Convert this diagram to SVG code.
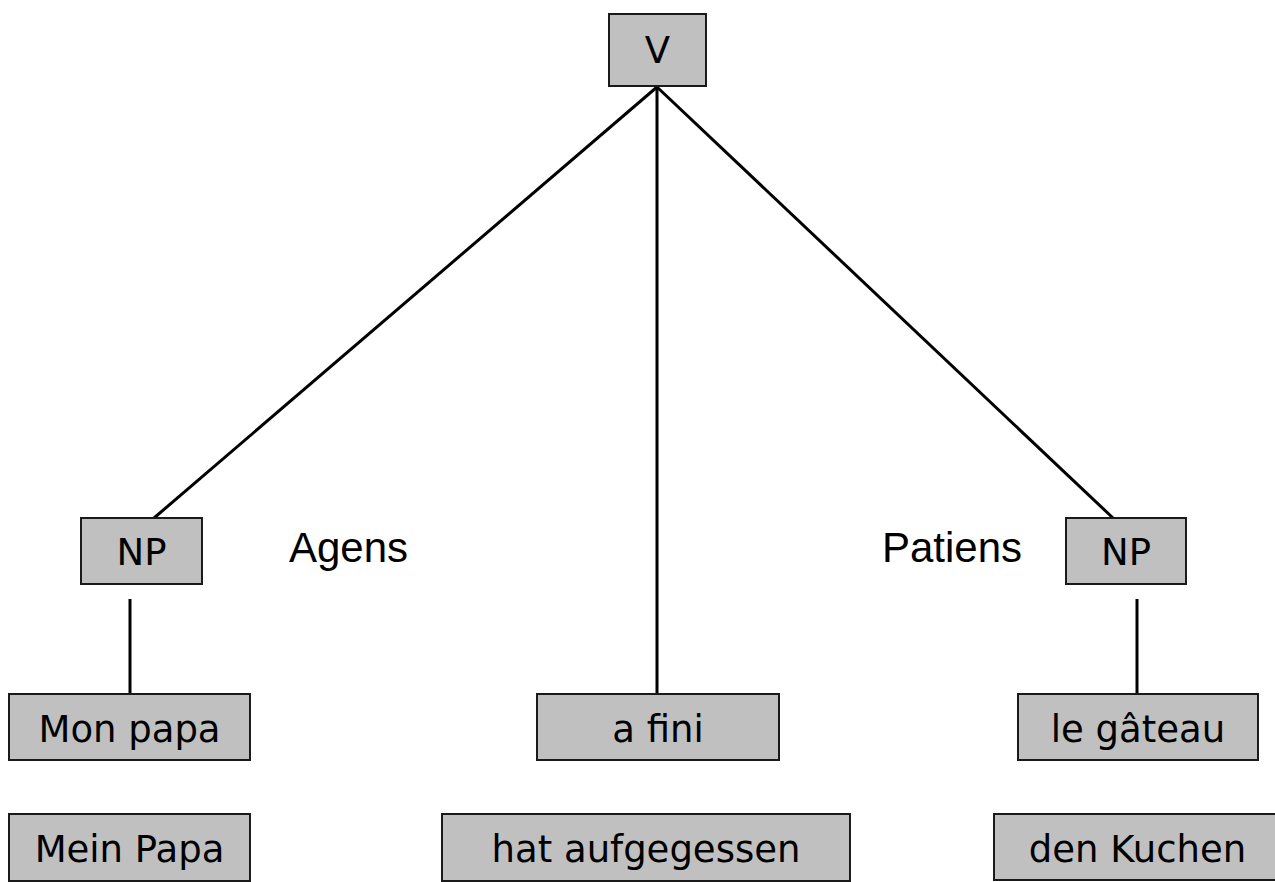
<svg xmlns="http://www.w3.org/2000/svg" width="1275" height="882" viewBox="0 0 1275 882">
  <style>
    .box { fill: #c0c0c0; stroke: #1a1a1a; stroke-width: 2; }
    .lbl { font-family: "DejaVu Sans", Verdana, sans-serif; font-size: 37px; fill: #000; text-anchor: middle; }
    .role { font-family: "Liberation Sans", Arial, sans-serif; font-size: 42px; fill: #000; }
    .edge { stroke: #000; stroke-width: 3; fill: none; }
  </style>
  <rect width="1275" height="882" fill="#fff"/>

  <!-- tree edges -->
  <g id="connectors">
    <line class="edge" x1="657" y1="87" x2="154" y2="518"/>
    <line class="edge" x1="657" y1="87" x2="657" y2="694"/>
    <line class="edge" x1="657" y1="87" x2="1113" y2="518"/>
    <line class="edge" x1="130" y1="599" x2="130" y2="694"/>
    <line class="edge" x1="1137" y1="599" x2="1137" y2="694"/>
  </g>

  <g id="v">
    <rect class="box" x="609" y="14" width="97" height="72"/>
    <text class="lbl" x="657.5" y="63">V</text>
  </g>

  <g id="np-left">
    <rect class="box" x="81" y="518" width="121" height="66"/>
    <text class="lbl" x="141.5" y="565">NP</text>
  </g>

  <g id="np-right">
    <rect class="box" x="1066" y="518" width="120" height="66"/>
    <text class="lbl" x="1126" y="565">NP</text>
  </g>

  <g id="agens">
    <text class="role" x="289" y="562">Agens</text>
  </g>

  <g id="patiens">
    <text class="role" x="882" y="562">Patiens</text>
  </g>

  <g id="mon-papa">
    <rect class="box" x="9" y="694" width="241" height="66"/>
    <text class="lbl" x="129.5" y="742">Mon papa</text>
  </g>

  <g id="a-fini">
    <rect class="box" x="537" y="694" width="242" height="66"/>
    <text class="lbl" x="658" y="742">a fini</text>
  </g>

  <g id="le-gateau">
    <rect class="box" x="1018" y="694" width="240" height="66"/>
    <text class="lbl" x="1138" y="742">le gâteau</text>
  </g>

  <g id="mein-papa">
    <rect class="box" x="9" y="814" width="241" height="67"/>
    <text class="lbl" x="129.5" y="862">Mein Papa</text>
  </g>

  <g id="hat-aufgegessen">
    <rect class="box" x="442" y="814" width="408" height="67"/>
    <text class="lbl" x="646" y="862">hat aufgegessen</text>
  </g>

  <g id="den-kuchen">
    <rect class="box" x="994" y="814" width="288" height="66"/>
    <text class="lbl" x="1137.5" y="862">den Kuchen</text>
  </g>
</svg>
